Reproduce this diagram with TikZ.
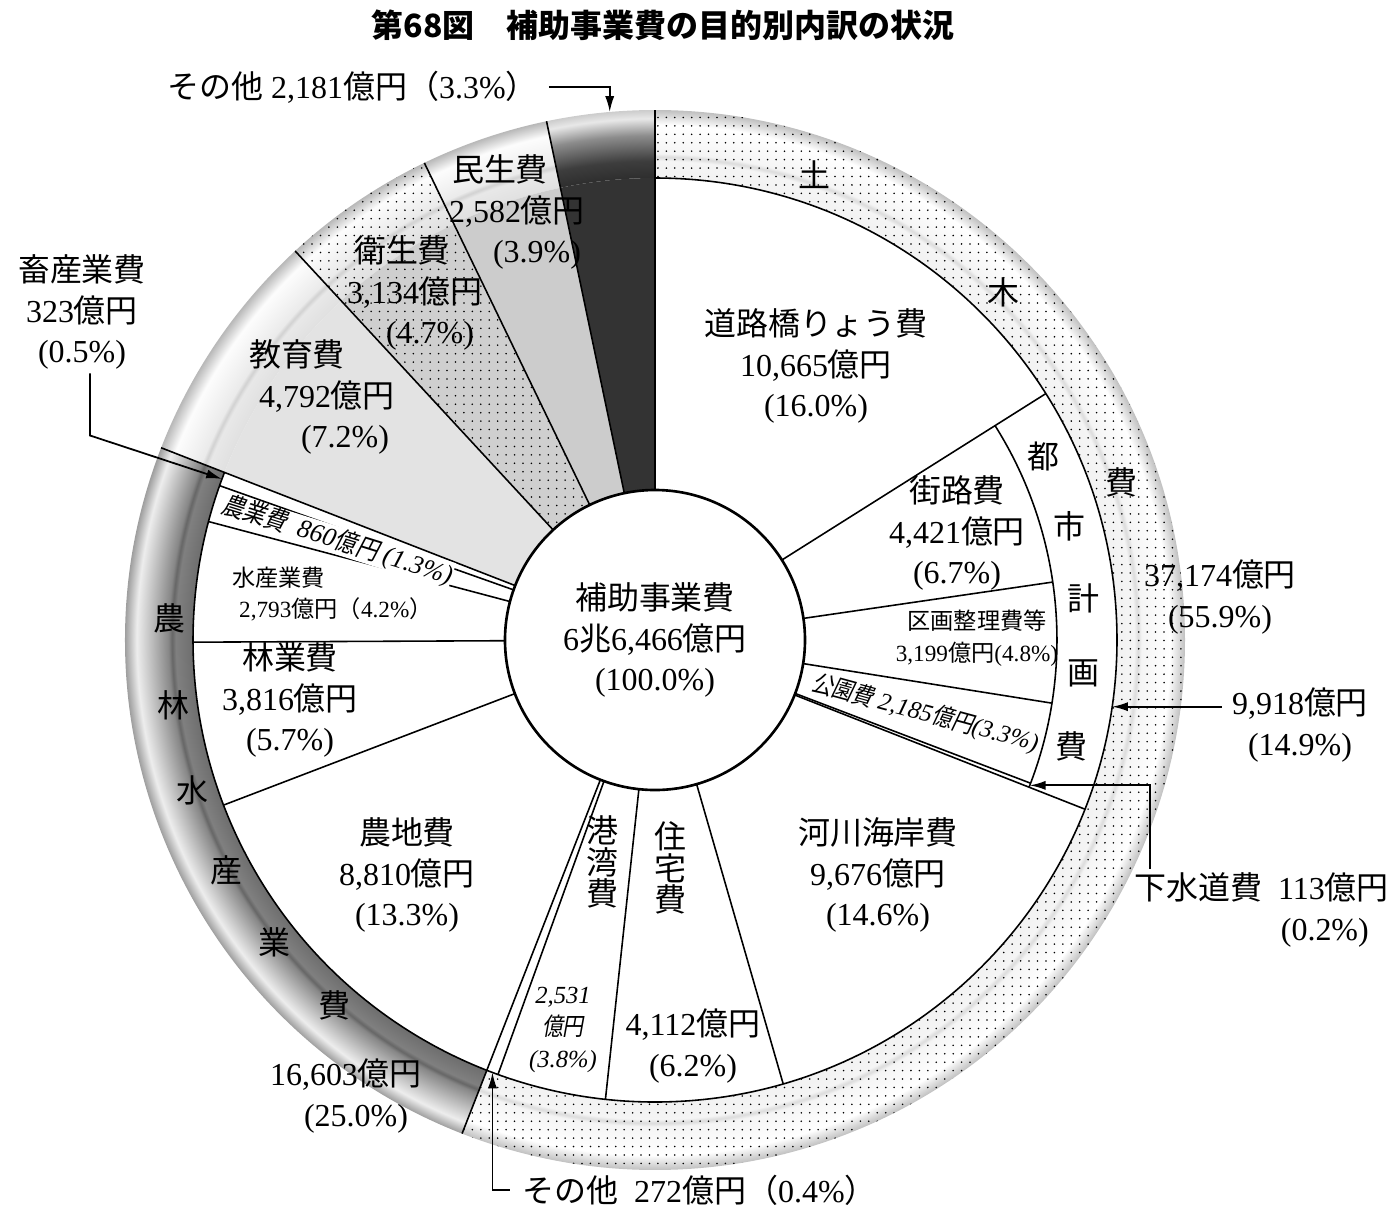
\documentclass[tikz,border=0pt]{standalone}
\usepackage{fontspec}
\setmainfont{Liberation Serif}
\newfontfamily\jp{Noto Sans CJK JP}
\newfontfamily\jpsl[FakeSlant=0.18,FakeStretch=0.85]{Noto Sans CJK JP}
\usetikzlibrary{arrows.meta,patterns.meta}

\newcommand\Rin{1.50}
\newcommand\Rmid{4.02}
\newcommand\Rpie{4.62}
\newcommand\Rring{5.30}

\newcommand\oku{{\jp 億円}}
\newcommand\okusl{{\jpsl 億円}}
\newcommand\zl{{\jp （}}
\newcommand\zr{{\jp ）}}

% Заливка кольца
\pgfdeclareradialshading{ringdark}{\pgfpoint{0bp}{0bp}}{color(0bp)=(black!57); color(21.79bp)=(black!57);
  color(22.6bp)=(black!50); color(22.78bp)=(black!60); color(22.95bp)=(black!47); color(24.45bp)=(black!7);
  color(25bp)=(black!38); color(50bp)=(black!38)}
\pgfdeclareradialshading{ringlight}{\pgfpoint{0bp}{0bp}}{color(0bp)=(black!12); color(21.79bp)=(black!12);
  color(22.6bp)=(black!9); color(22.78bp)=(black!18); color(22.95bp)=(black!8); color(24.3bp)=(black!1);
  color(25bp)=(black!28); color(50bp)=(black!28)}
\pgfdeclareradialshading{ringblack}{\pgfpoint{0bp}{0bp}}{color(0bp)=(black!82); color(21.79bp)=(black!82);
  color(22.6bp)=(black!76); color(23.8bp)=(black!45); color(24.6bp)=(black!9); color(25bp)=(black!20);
  color(50bp)=(black!20)}
\pgfdeclareradialshading{ringpale}{\pgfpoint{0bp}{0bp}}{color(0bp)=(black!5); color(21.79bp)=(black!5);
  color(22.6bp)=(black!4); color(22.78bp)=(black!14); color(22.95bp)=(black!4); color(24.3bp)=(black!0);
  color(25bp)=(black!25); color(50bp)=(black!25)}

\tikzset{
  lbl/.style={align=center, inner sep=1pt, font=\fontsize{9.1}{11.5}\selectfont},
  smalllbl/.style={align=center, inner sep=1pt, font=\fontsize{6.6}{9}\selectfont},
  vert/.style={align=center, inner sep=1pt, font=\jp\fontsize{9.1}{8.9}\selectfont},
  sen/.style={line width=0.45pt},
  yajirushi/.style={-{Latex[length=4.5pt,width=2.6pt]}, line width=0.5pt},
  tenten/.style={pattern={Dots[distance=2.4pt,radius=0.25pt]}},
  wedge/.style 2 args={insert path={(0,0) -- (#1:\Rpie) arc[start angle=#1,end angle=#2,radius=\Rpie] -- cycle}},
  band/.style 2 args={insert path={(#1:\Rpie) arc[start angle=#1,end angle=#2,radius=\Rpie]
    -- (#2:\Rring) arc[start angle=#2,end angle=#1,radius=\Rring] -- cycle}},
}

\begin{document}
\begin{tikzpicture}
	\useasboundingbox (-6.55,-5.74) rectangle (7.45,6.40);

	% Кольцо
	\foreach \a/\b/\s in {90/101.81/ringblack, 101.81/115.80/ringlight, 115.80/132.77/ringlight,
	  132.77/158.73/ringlight, 158.73/248.65/ringdark, -111.35/90/ringpale} {
		\begin{scope}
			\clip[band={\a}{\b}];
			\shade[shading=\s] (0,0) circle (\Rring);
		\end{scope}
	}
	\path[tenten, band={115.80}{132.77}];
	\path[tenten, band={-111.35}{90}];

	% Секторы
	\fill[black!80, wedge={90}{101.81}];
	\fill[black!20, wedge={101.81}{115.80}];
	\fill[black!19, wedge={115.80}{132.77}];
	\path[tenten, wedge={115.80}{132.77}];
	\fill[black!11, wedge={132.77}{158.73}];

	% Линии
	\foreach \a in {90,101.81,115.80,132.77,158.73,-111.35}
		\draw[sen] (\a:\Rin) -- (\a:\Rring);
	\foreach \a in {32.23,-21.48,-73.89,-96.16,-109.87,-159.06,-179.73,165.14,160.48}
		\draw[sen] (\a:\Rin) -- (\a:\Rpie);
	\foreach \a in {8.29,-9.04,-20.87}
		\draw[sen] (\a:\Rin) -- (\a:\Rmid);
	\draw[sen] (32.23:\Rmid) arc[start angle=32.23,end angle=-21.48,radius=\Rmid];
	\draw[sen] (90:\Rpie) arc[start angle=90,end angle=-201.27,radius=\Rpie];
	\draw[line width=0.75pt, fill=white] (0,0) circle (\Rin);

	% Заголовок и центр
	\node[lbl] (title) at (0.08,6.15) {\jp\bfseries 第68図　補助事業費の目的別内訳の状況};
	\node[lbl] (hojo) at (0,0) {{\jp 補助事業費}\\6{\jp 兆}6,466\oku\\(100.0\%)};

	% Слева сверху
	\node[lbl, anchor=west] (sonota1) at (-4.92,5.53) {{\jp その他} 2,181\oku\zl 3.3\%\zr};
	\coordinate (sonota1tip) at (94.9:\Rring);
	\draw[yajirushi] ([xshift=2pt]sonota1.east) -| (sonota1tip);
	\node[lbl] (minsei) at (-1.38,4.28) {{\jp 民生費}\hspace*{.34cm}\\2,582\oku\\\hspace*{.4cm}(3.9\%)};
	\node[lbl] (eisei) at (-2.40,3.47) {{\jp 衛生費}\hspace*{.26cm}\\3,134\oku\\\hspace*{.3cm}(4.7\%)};
	\node[lbl] (kyoiku) at (-3.28,2.43) {{\jp 教育費}\hspace*{.6cm}\\4,792\oku\\\hspace*{.36cm}(7.2\%)};
	\node[lbl] (chikusan) at (-5.73,3.28) {{\jp 畜産業費}\\323\oku\\(0.5\%)};
	\coordinate (chikusantip) at (159.6:\Rpie);
	\draw[yajirushi] ([xshift=.08cm]chikusan.south) -- ++(0,-0.62) -- (chikusantip);

	% 農林水産業費
	\node[smalllbl, rotate=-17.4, fill=white, inner sep=0pt, font=\fontsize{7.4}{9}\selectfont] (nogyo) at (162.6:3.33)
		{{\jpsl 農業費}\ \ {\itshape 860}\okusl\ {\itshape (1.3\%)}};
	\node[smalllbl, anchor=west, align=left] (suisan) at (-4.27,0.46) {{\jp 水産業費}\\\hspace*{2pt}2,793\oku\zl 4.2\%\zr};
	\node[lbl] (ringyo) at (-3.65,-0.60) {{\jp 林業費}\\3,816\oku\\(5.7\%)};
	\node[lbl] (nochi) at (-2.48,-2.35) {{\jp 農地費}\\8,810\oku\\(13.3\%)};
	\node[lbl] (norin) at (-2.99,-4.56) {16,603\oku\hspace*{.2cm}\\(25.0\%)};
	\foreach \ch [count=\i] in {農,林,水,産,業,費}
		\node[lbl] (norin\i) at ({177.5+10.25*(\i-1)}:4.86) {\jp\ch};

	% 土木費
	\foreach \ch [count=\i] in {土,木,費}
		\node[lbl] (doboku\i) at ({71.1-26.2*(\i-1)}:4.92) {\jp\ch};
	\node[lbl] (doboku) at (5.65,0.43) {37,174\oku\\(55.9\%)};
	\node[lbl] (doro) at (1.61,2.74) {{\jp 道路橋りょう費}\\10,665\oku\\(16.0\%)};
	\node[lbl] (gairo) at (3.02,1.07) {{\jp 街路費}\\4,421\oku\\(6.7\%)};
	\foreach \ch [count=\i] in {都,市,計,画,費}
		\node[lbl] (toshikeikaku\i) at ({25.3-9.9*(\i-1)}:4.30) {\jp\ch};
	\node[smalllbl] (kukaku) at (3.22,0.02) {{\jp 区画整理費等}\\3,199\oku(4.8\%)};
	\node[smalllbl, rotate=-15.2, font=\fontsize{7}{9}\selectfont] (koen) at (-15.2:2.80)
		{{\jpsl 公園費}\ {\itshape 2,185}\okusl{\itshape (3.3\%)}};
	\node[lbl] (kasen) at (2.23,-2.35) {{\jp 河川海岸費}\\9,676\oku\\(14.6\%)};
	\node[vert] (jutaku) at (0.15,-2.28) {住\\宅\\費};
	\node[lbl] (jutakuv) at (0.38,-4.06) {4,112\oku\\(6.2\%)};
	\node[vert] (kowan) at (-0.53,-2.22) {港\\湾\\費};
	\node[smalllbl, font=\fontsize{7}{9}\selectfont\itshape] (kowanv) at (-0.92,-3.90) {2,531\\\okusl\\(3.8\%)};

	% Справа
	\node[lbl] (toshi) at (6.45,-0.85) {9,918\oku\\(14.9\%)};
	\coordinate (toshitip) at (-8.3:\Rpie);
	\draw[yajirushi] ([xshift=-.06cm]toshitip -| toshi.west) -- (toshitip);
	\node[lbl, anchor=east, align=right] (gesui) at (7.38,-2.70) {{\jp 下水道費}\enspace 113\oku\\(0.2\%)\hspace*{.2cm}};
	\coordinate (gesuitip) at (-21.2:\Rmid);
	\draw[yajirushi] ([xshift=.2cm]gesui.north west) |- (gesuitip);

	% Снизу
	\node[lbl, anchor=west] (sonota2) at (-1.37,-5.50) {{\jp その他}\enspace 272\oku\zl 0.4\%\zr};
	\coordinate (sonota2tip) at (-110.6:\Rpie);
	\draw[yajirushi] ([xshift=-.08cm]sonota2.west) -| (sonota2tip);
\end{tikzpicture}
\end{document}
